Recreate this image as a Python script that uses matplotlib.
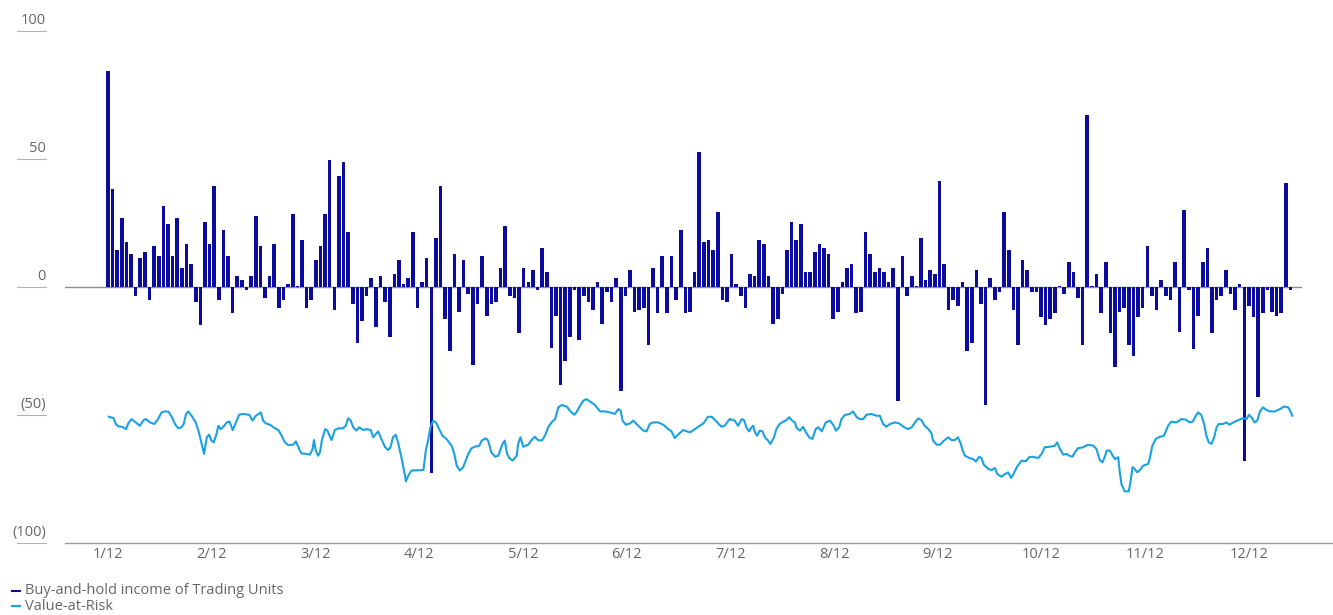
import matplotlib
matplotlib.use("Agg")
import matplotlib.pyplot as plt
from matplotlib.lines import Line2D
import numpy as np

# daily buy-and-hold income of trading units, one value per trading day
income = [
    84.5, 38.4, 14.6, 27.1, 17.7, 13.0, -3.6, 11.5, 13.8, -5.2, 16.1, 12.2, 31.8, 24.7, 12.2, 27.1, 7.6, 16.9, 9.1, -6.0,
    -15.0, 25.5, 16.9, 39.6, -5.2, 22.4, 12.2, -10.3, 4.4, 2.9, -1.0, 4.4, 27.9, 16.1, -4.4, 4.4, 16.9, -8.3, -5.2, 1.3,
    28.6, 0.5, 18.5, -8.3, -5.2, 10.7, 16.1, 28.6, 49.7, -9.1, 43.5, 49.0, 21.6, -6.8, -22.0, -13.4, -3.6, 3.6, -15.8, 4.4,
    -6.0, -19.7, 5.2, 10.7, 1.3, 3.6, 21.6, -8.3, 2.1, 11.5, -72.8, 19.3, 39.6, -12.6, -25.1, 13.0, -9.9, 10.7, -2.9, -30.6,
    -6.8, 12.2, -11.5, -6.8, -6.0, 7.6, 24.0, -3.6, -4.4, -18.1, 7.6, 2.1, 6.8, -1.0, 15.4, 6.0, -24.0, -11.5, -38.4, -29.0,
    -19.7, -1.0, -20.8, -3.6, -6.0, -9.1, 2.1, -14.6, -2.1, -6.0, 3.6, -40.8, -3.6, 6.8, -9.9, -9.1, -8.3, -22.8, 7.6, -10.3,
    12.2, -10.3, 12.2, -5.2, 22.4, -10.3, -9.9, 6.0, 52.9, 17.7, 18.5, 14.6, 29.4, -5.2, -6.0, 13.0, 1.3, -3.6, -8.3, 5.2,
    4.4, 18.5, 16.9, 4.4, -14.6, -12.6, -2.9, 14.6, 25.5, 18.5, 24.7, 6.0, 6.0, 13.8, 16.9, 15.4, 13.0, -12.6, -9.9, 2.1,
    7.6, 9.1, -10.3, -9.9, 21.6, 13.0, 6.0, 7.6, 6.0, 2.1, 7.6, -44.7, 12.2, -3.6, 4.4, 0.5, 19.3, 2.9, 6.8, 5.2,
    41.5, 9.1, -9.1, -5.2, -7.6, 2.1, -25.1, -22.0, 6.8, -6.8, -46.2, 3.6, -5.2, -2.1, 29.4, 14.6, -9.1, -22.8, 10.7, 6.8,
    -2.1, -2.1, -11.8, -15.0, -12.6, -10.3, 0.5, -2.9, 9.9, 6.0, -4.4, -22.8, 67.3, 0.5, 5.2, -10.3, 9.9, -18.1, -31.4, -9.9,
    -8.3, -22.8, -27.1, -11.8, -8.3, 16.1, -3.6, -9.1, 2.9, -3.6, -5.2, 9.9, -17.7, 30.2, -1.0, -24.3, -11.5, 9.9, 15.4, -18.1,
    -5.2, -3.6, 6.8, -2.9, -9.1, 1.3, -68.1, -7.6, -11.8, -43.1, -10.3, -1.0, -9.9, -11.5, -10.3, 40.8, -1.0,
]

# value-at-risk readings: trading day position and value
var_day = [
    0.2, 1.2, 1.7, 2.2, 3.0, 3.9, 4.4, 5.1, 5.8, 6.9, 7.7, 8.2, 9.1, 10.0, 10.7, 11.6, 12.3, 13.1, 13.8, 14.5,
    15.2, 15.9, 16.4, 16.9, 17.4, 18.1, 19.0, 19.7, 20.8, 21.4, 21.9, 22.4, 22.9, 23.5, 23.9, 24.4, 25.0, 25.7, 26.3, 27.0,
    27.7, 28.4, 29.2, 30.6, 31.3, 32.0, 33.1, 33.6, 34.2, 35.1, 35.8, 36.9, 37.6, 38.3, 39.0, 40.1, 40.7, 41.4, 41.9, 43.0,
    43.7, 44.3, 44.6, 45.0, 45.5, 45.9, 46.3, 47.0, 47.5, 48.4, 49.1, 49.9, 50.9, 51.5, 52.0, 52.5, 53.1, 53.8, 54.4, 55.3,
    56.0, 56.9, 57.4, 58.5, 59.2, 60.0, 60.7, 61.2, 61.7, 62.3, 62.8, 63.6, 64.3, 64.5, 65.0, 65.7, 68.3, 68.8, 69.3, 69.8,
    70.4, 71.0, 71.7, 72.4, 73.3, 74.4, 74.9, 75.5, 76.2, 76.9, 78.0, 78.7, 79.4, 80.4, 80.9, 81.8, 82.3, 83.0, 83.8, 84.5,
    85.4, 85.9, 86.4, 86.9, 87.6, 88.5, 88.8, 89.3, 89.9, 91.0, 91.7, 92.4, 93.1, 93.9, 94.6, 95.3, 96.0, 96.8, 97.5, 98.2,
    99.3, 100.0, 100.9, 101.4, 102.2, 102.9, 103.6, 104.3, 105.4, 106.5, 107.6, 108.7, 109.7, 110.5, 111.0, 111.4, 112.1, 113.0, 113.7, 114.8,
    115.9, 116.6, 117.3, 118.0, 119.1, 120.2, 121.3, 122.0, 122.7, 123.4, 124.5, 126.0, 127.1, 128.1, 128.9, 129.9, 130.7, 131.7, 132.8, 133.5,
    134.6, 135.7, 136.4, 137.2, 137.7, 138.2, 138.8, 139.3, 139.7, 140.0, 140.5, 141.1, 141.7, 142.2, 142.9, 143.4, 144.2, 144.7, 145.4, 146.2,
    146.7, 147.5, 148.0, 148.7, 149.1, 149.8, 150.5, 151.1, 151.8, 152.5, 153.2, 153.8, 154.5, 155.4, 156.3, 157.0, 157.6, 158.3, 158.8, 159.5,
    160.6, 161.3, 162.1, 162.8, 163.5, 164.2, 165.3, 166.4, 167.1, 167.8, 168.5, 169.3, 170.4, 171.3, 172.2, 173.2, 174.0, 174.7, 175.4, 176.1,
    176.8, 177.6, 178.3, 178.6, 179.4, 180.1, 180.8, 181.9, 182.6, 183.3, 184.0, 184.6, 185.0, 185.5, 186.6, 187.3, 187.9, 188.6, 189.1, 189.6,
    190.6, 191.3, 192.0, 192.5, 193.4, 193.9, 194.9, 195.5, 196.1, 196.8, 197.8, 198.7, 199.4, 200.1, 201.4, 202.1, 202.8, 203.9, 205.0, 205.5,
    206.1, 206.8, 207.5, 208.1, 208.8, 209.3, 210.0, 211.1, 212.2, 213.3, 214.0, 214.7, 215.3, 215.8, 216.2, 216.9, 217.5, 218.0, 218.7, 219.0,
    219.4, 220.1, 221.0, 221.4, 221.8, 222.3, 222.8, 223.4, 224.1, 225.2, 225.5, 226.1, 226.8, 227.7, 228.6, 229.5, 230.2, 231.3, 232.4, 233.3,
    234.2, 234.9, 235.3, 236.0, 236.7, 237.3, 237.8, 238.3, 238.9, 239.5, 240.0, 240.5, 241.4, 242.1, 242.8, 243.6, 244.7, 245.7, 246.5, 247.0,
    247.7, 248.2, 248.8, 249.3, 250.0, 250.8, 251.5, 252.6, 253.7, 254.6, 255.5, 255.9, 256.4,
]
var_value = [
    -50.7, -51.2, -53.5, -54.4, -54.6, -55.5, -53.3, -51.6, -52.6, -54.2, -52.0, -51.6, -52.9, -53.5, -52.0, -49.0, -48.6, -48.7, -50.7, -53.5,
    -55.2, -54.8, -53.5, -49.6, -48.6, -50.3, -52.9, -56.8, -65.2, -58.7, -57.7, -60.0, -60.7, -57.4, -54.2, -55.5, -54.6, -52.9, -52.5, -55.9,
    -52.9, -49.9, -49.6, -49.9, -52.2, -50.3, -49.0, -52.2, -53.3, -53.8, -54.8, -55.9, -58.1, -60.7, -61.7, -61.6, -60.3, -63.3, -65.0, -65.2,
    -65.5, -63.3, -59.8, -63.9, -65.9, -64.6, -60.0, -55.5, -56.1, -59.8, -55.9, -55.2, -55.2, -54.2, -51.3, -52.0, -54.8, -56.1, -54.8, -55.9,
    -55.5, -55.9, -58.7, -56.4, -59.4, -62.6, -63.7, -62.4, -58.7, -57.7, -60.7, -67.2, -73.7, -75.9, -73.7, -71.7, -71.5, -63.9, -60.0, -54.8,
    -52.2, -52.9, -55.5, -58.1, -59.4, -62.0, -64.6, -69.8, -71.7, -70.4, -65.2, -63.0, -62.4, -62.0, -60.0, -59.1, -60.0, -64.6, -66.3, -65.9,
    -61.3, -60.0, -65.2, -66.8, -67.8, -65.9, -61.3, -58.7, -62.4, -61.6, -59.8, -58.5, -59.8, -60.0, -58.1, -54.8, -52.9, -51.6, -47.0, -46.1,
    -46.7, -48.3, -49.9, -49.0, -46.4, -44.4, -43.8, -44.7, -46.0, -48.6, -48.6, -49.0, -49.6, -47.7, -48.3, -52.2, -53.8, -53.3, -52.2, -54.2,
    -56.1, -56.4, -53.5, -52.9, -52.9, -53.8, -55.5, -56.4, -59.0, -57.7, -55.9, -56.8, -55.5, -54.2, -53.3, -50.7, -50.7, -52.5, -54.6, -54.2,
    -51.6, -52.2, -54.2, -51.6, -52.0, -54.8, -56.4, -54.8, -54.2, -56.4, -58.1, -56.1, -56.4, -58.7, -60.0, -61.3, -58.7, -55.5, -53.5, -52.6,
    -52.2, -50.9, -52.0, -52.9, -55.1, -56.1, -54.6, -56.8, -58.7, -59.4, -55.5, -54.8, -56.4, -52.9, -52.2, -53.8, -56.1, -54.8, -51.6, -50.0,
    -49.6, -48.6, -50.9, -51.6, -51.6, -49.9, -49.6, -50.3, -50.3, -53.5, -54.6, -53.5, -52.9, -53.3, -54.6, -55.5, -54.8, -52.9, -51.3, -52.0,
    -54.2, -55.5, -57.2, -60.0, -61.6, -61.6, -60.3, -58.7, -59.8, -59.8, -58.7, -61.1, -63.7, -65.9, -66.9, -67.2, -68.2, -66.3, -66.8, -69.4,
    -71.1, -71.5, -70.7, -73.0, -74.1, -73.4, -72.4, -74.6, -72.8, -70.2, -67.8, -68.1, -66.5, -66.3, -66.8, -65.2, -62.6, -62.4, -62.0, -60.7,
    -63.3, -65.5, -65.2, -65.9, -66.3, -64.6, -63.0, -62.6, -61.6, -62.0, -63.3, -67.6, -68.5, -66.3, -63.9, -63.9, -65.9, -67.2, -66.5, -71.7,
    -77.0, -79.8, -79.8, -75.7, -70.4, -71.1, -72.4, -71.5, -69.8, -69.1, -67.2, -62.0, -59.4, -58.5, -58.1, -54.2, -52.6, -52.9, -51.6, -51.8,
    -52.9, -52.5, -50.9, -49.0, -50.0, -53.5, -58.1, -60.7, -61.3, -58.5, -54.8, -53.5, -53.5, -52.9, -53.8, -52.9, -52.0, -51.2, -51.6, -49.9,
    -51.2, -52.9, -52.2, -49.0, -47.0, -48.0, -48.6, -48.6, -47.7, -46.7, -47.0, -48.3, -50.3,
]

month_labels = ["1/12", "2/12", "3/12", "4/12", "5/12", "6/12", "7/12", "8/12", "9/12", "10/12", "11/12", "12/12"]
y_ticks = [100, 50, 0, -50, -100]
y_labels = ["100", "50", "0", "(50)", "(100)"]

bar_color = "#0b0b9f"
var_color = "#1aa1e1"
grey = "#666666"

plt.rcParams['font.family'] = ['Open Sans', 'DejaVu Sans']

fig = plt.figure(figsize=(13.33, 6.15), dpi=100)
ax = fig.add_axes([65 / 1333, 72 / 615, 1268 / 1333, 512 / 615])

days = np.arange(len(income))
ax.bar(days, income, width=0.78, color=bar_color, zorder=3)
ax.plot(var_day, var_value, color=var_color, lw=1.5, zorder=4)
ax.axhline(0, xmin=0, xmax=0.975, color="#8c8c8c", lw=1, zorder=2)

ax.set_xlim(-9.3, 265.2)
ax.set_ylim(-100, 100)

for s in ["top", "right", "left"]:
    ax.spines[s].set_visible(False)
ax.spines["bottom"].set_color("#9a9a9a")
ax.spines["bottom"].set_linewidth(1)

ax.set_xticks(np.linspace(0, 247, len(month_labels)))
ax.set_xticklabels(month_labels, fontsize=10.5, color=grey)
ax.tick_params(axis="x", length=0, pad=3)
ax.set_yticks([])

# y labels sit on short rules left of the plot
trans = ax.get_yaxis_transform()
for val, lab in zip(y_ticks, y_labels):
    ax.plot([-0.038, -0.015], [val, val], transform=trans, color="#b0b0b0", lw=0.8, clip_on=False)
    ax.annotate(lab, xy=(-0.015, val), xycoords=trans, xytext=(0, 2.5), textcoords="offset points",
                ha="right", va="bottom", fontsize=10.5, color=grey)

# legend
for i, (lab, col) in enumerate([("Buy-and-hold income of Trading Units", bar_color), ("Value-at-Risk", var_color)]):
    yy = 1 - (591 + 15 * i) / 615
    fig.add_artist(Line2D([12 / 1333, 20 / 1333], [yy, yy], color=col, lw=1.5))
    fig.text(25 / 1333, yy, lab, fontsize=10.5, color=grey, va="center", ha="left")

fig.savefig("out.png", dpi=100)
